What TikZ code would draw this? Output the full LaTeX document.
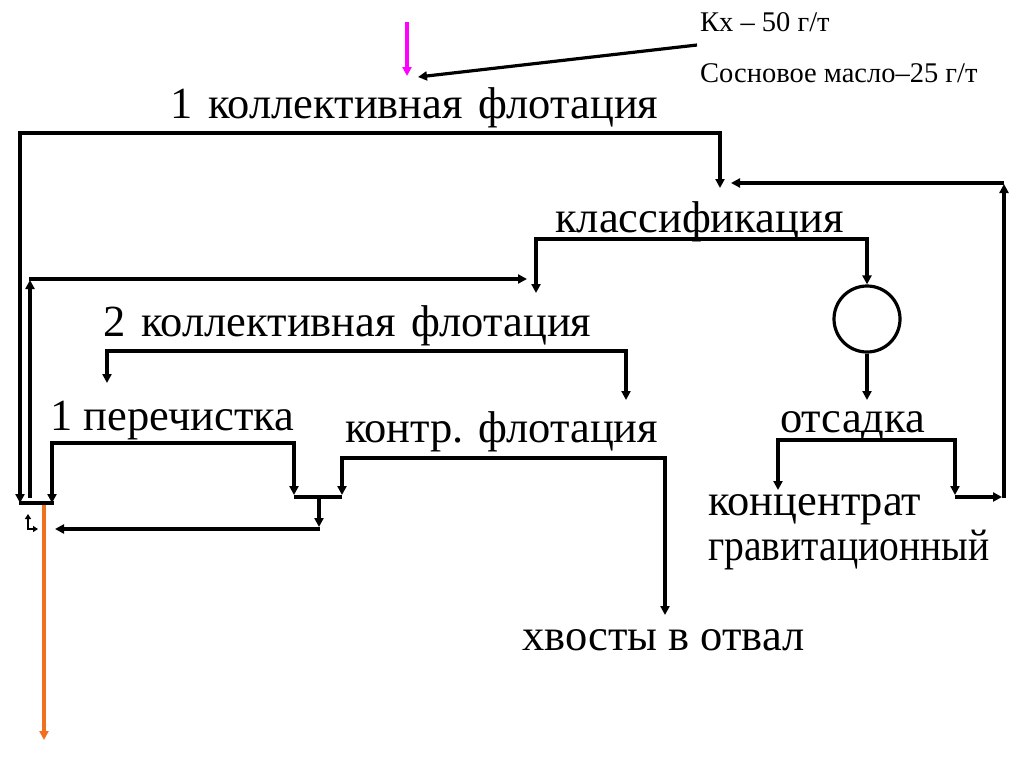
\documentclass[tikz,border=0pt]{standalone}
\usepackage{fontspec}
\usepackage{graphicx}
\setmainfont{Liberation Serif}
\usetikzlibrary{arrows.meta}
\definecolor{orng}{RGB}{240,112,32}
\definecolor{mgnt}{RGB}{255,0,255}
\newcommand\mywidesp{\spaceskip=0.36em\relax}
\tikzset{
  ln/.style={line width=3.2pt, line join=miter},
  arr/.style={ln, -{Triangle[length=9pt,width=9pt]}},
  both/.style={ln, {Triangle[length=9pt,width=9pt]}-{Triangle[length=9pt,width=9pt]}},
  big/.style={anchor=base west, inner sep=0pt, font=\fontsize{44.5}{52}\selectfont},
  small/.style={anchor=base west, inner sep=0pt, font=\fontsize{28.5}{34}\selectfont}
}
\begin{document}
\begin{tikzpicture}[x=1pt,y=-1pt]
\useasboundingbox (0,0) rectangle (1024,768);
% texts
\node[small] (kx) at (700,32) {Кх – 50 г/т};
\node[small] (sm) at (700,82) {Сосновое масло–25 г/т};
\node[big] (f1) at (170,118) {\mywidesp 1 коллективная флотация};
\node[big] (kl) at (555,232) {классификация};
\node[big] (f2) at (103,336) {\mywidesp 2 коллективная флотация};
\node[big] (p1) at (50,430) {1 перечистка};
\node[big] (kf) at (345,442) {контр. флотация};
\node[big] (ot) at (780,432) {отсадка};
\node[big] (kc) at (708,515) {концентрат};
\node[big] (gr) at (708,560) {\scalebox{0.89}[1]{гравитационный}};
\node[big] (hv) at (522,650) {хвосты в отвал};
\node[draw, line width=3.2pt, circle, minimum size=66pt, inner sep=0pt] (ci) at (867,319) {};
% coordinates
\coordinate (m1) at (407,22);
\coordinate (m2) at (407,76);
\coordinate (r1) at (697,45);
\coordinate (r2) at (418,77);
% reagents
\draw[arr, mgnt] (m1) -- (m2);
\draw[arr] (r1) -- (r2);
% 1 collective flotation
\draw[both] (720,188) |- (20,133) -- (20,503);
% classification
\draw[both] (536,293) |- (867,239) -- (ci.north);
\draw[arr] (ci.south) -- (867,400);
% jig
\draw[both] (778,490) |- (955,440) -- (955,495);
\draw[arr] (955,497) -- (1002,497);
\draw[arr] (1004,498) -- (1004,184);
\draw[arr] (1004,183) -- (731,183);
% return to classification
\draw[arr] (30,498) -- (30,280);
\draw[arr] (29,279) -- (527,279);
% 2 collective flotation
\draw[both] (107,383) |- (626,351) -- (626,400);
% cleaning and scavenging
\draw[both] (52,503) |- (294,443) -- (294,495);
\draw[both] (342,495) |- (665,458) -- (665,615);
\draw[ln] (294,497) -- (342,497);
\draw[arr] (319,497) -- (319,527);
\draw[arr] (320,529) -- (55,529);
% bottom left
\draw[ln] (19,503) -- (54,503);
\draw[arr, orng] (44,505) -- (44,740);
\draw[line width=2pt, {Triangle[length=5pt,width=6pt]}-{Triangle[length=5pt,width=6pt]}] (28,514) |- (38,529);
\end{tikzpicture}
\end{document}
